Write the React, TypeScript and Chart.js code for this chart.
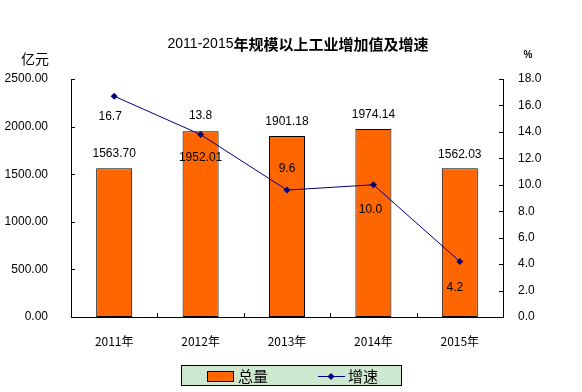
import React, { useEffect, useRef } from "react";
import { Chart, registerables } from "chart.js";

Chart.register(...registerables);

const categories = ["2011年", "2012年", "2013年", "2014年", "2015年"];
const totals = [1563.7, 1952.01, 1901.18, 1974.14, 1562.03];
const growth = [16.7, 13.8, 9.6, 10.0, 4.2];
const leftTicks = { min: 0, max: 2500, step: 500 };
const rightTicks = { min: 0, max: 18, step: 2 };
const titleNum = "2011-2015";
const titleText = "年规模以上工业增加值及增速";
const leftUnit = "亿元";
const rightUnit = "%";
const legendBar = "总量";
const legendLine = "增速";

// label placement (style only)
const barLabelDy = [-14, 27, -14, -14, -14];
const lineLabelDy = [20, -19, -21, 25, 26];
const lineLabelDx = [-4, 0, 0, -3, -5];

const NUM_FONT = "'Liberation Sans', Arial, sans-serif";
const CJK_FONT = "'Noto Sans CJK SC', sans-serif";

const decorPlugin = {
  id: "decor",
  afterDatasetsDraw(chart: any) {
    const ctx = chart.ctx;
    const area = chart.chartArea;
    ctx.save();
    // inner tick marks
    ctx.strokeStyle = "#000";
    ctx.lineWidth = 1;
    const ys = chart.scales.y;
    const ys1 = chart.scales.y1;
    const xs = chart.scales.x;
    ctx.beginPath();
    for (let v = leftTicks.min; v <= leftTicks.max; v += leftTicks.step) {
      const py = Math.round(ys.getPixelForValue(v)) + 0.5;
      ctx.moveTo(area.left, py);
      ctx.lineTo(area.left + 4, py);
    }
    for (let v = rightTicks.min; v <= rightTicks.max + 1e-9; v += rightTicks.step) {
      const py = Math.round(ys1.getPixelForValue(v)) + 0.5;
      ctx.moveTo(area.right, py);
      ctx.lineTo(area.right - 4, py);
    }
    const cw = (area.right - area.left) / categories.length;
    for (let i = 1; i < categories.length; i++) {
      const px = Math.round(area.left + cw * i) + 0.5;
      ctx.moveTo(px, area.bottom);
      ctx.lineTo(px, area.bottom - 4);
    }
    ctx.stroke();

    // data labels
    ctx.fillStyle = "#000";
    ctx.font = `12px ${NUM_FONT}`;
    ctx.textAlign = "center";
    ctx.textBaseline = "middle";
    const barMeta = chart.getDatasetMeta(0);
    barMeta.data.forEach((el: any, i: number) => {
      ctx.fillText(totals[i].toFixed(2), el.x, el.y + barLabelDy[i]);
    });
    const lineMeta = chart.getDatasetMeta(1);
    lineMeta.data.forEach((el: any, i: number) => {
      ctx.fillText(growth[i].toFixed(1), el.x + lineLabelDx[i], el.y + lineLabelDy[i]);
    });
    ctx.restore();
  },
  afterDraw(chart: any) {
    const ctx = chart.ctx;
    ctx.save();
    ctx.fillStyle = "#000";
    ctx.textBaseline = "middle";
    // title
    ctx.font = `14px ${NUM_FONT}`;
    const w1 = ctx.measureText(titleNum).width;
    ctx.font = `bold 15px ${CJK_FONT}`;
    const w2 = ctx.measureText(titleText).width;
    const startX = 298 - (w1 + w2) / 2;
    ctx.textAlign = "left";
    ctx.font = `14px ${NUM_FONT}`;
    ctx.fillText(titleNum, startX, 44);
    ctx.font = `bold 15px ${CJK_FONT}`;
    ctx.fillText(titleText, startX + w1, 44);
    // units
    ctx.textAlign = "center";
    ctx.font = `14px ${CJK_FONT}`;
    ctx.fillText(leftUnit, 35, 59);
    ctx.font = `bold 10px ${NUM_FONT}`;
    ctx.fillText(rightUnit, 528, 55);
    // legend
    ctx.fillStyle = "#CCE8CF";
    ctx.fillRect(181, 365, 220, 20);
    ctx.strokeStyle = "#000";
    ctx.lineWidth = 1;
    ctx.strokeRect(181.5, 365.5, 220, 20);
    ctx.fillStyle = "#FF6600";
    ctx.fillRect(207, 371, 26, 10);
    ctx.strokeRect(207.5, 371.5, 26, 10);
    ctx.fillStyle = "#000";
    ctx.textAlign = "left";
    ctx.font = `15px ${CJK_FONT}`;
    ctx.fillText(legendBar, 238, 376);
    ctx.fillText(legendLine, 348, 376);
    ctx.strokeStyle = "#000080";
    ctx.beginPath();
    ctx.moveTo(318, 376.5);
    ctx.lineTo(345, 376.5);
    ctx.stroke();
    ctx.fillStyle = "#000080";
    ctx.beginPath();
    ctx.moveTo(331, 373);
    ctx.lineTo(334.5, 376.5);
    ctx.lineTo(331, 380);
    ctx.lineTo(327.5, 376.5);
    ctx.closePath();
    ctx.fill();
    ctx.restore();
  },
};

export default function App() {
  const ref = useRef<HTMLCanvasElement | null>(null);
  useEffect(() => {
    if (!ref.current) return;
    const chart = new Chart(ref.current, {
      type: "bar",
      data: {
        labels: categories,
        datasets: [
          {
            type: "bar",
            label: legendBar,
            data: totals,
            backgroundColor: "#FF6600",
            borderColor: "#000000",
            borderWidth: 1,
            borderSkipped: false,
            categoryPercentage: 1,
            barPercentage: 0.417,
            yAxisID: "y",
            order: 1,
          },
          {
            type: "line",
            label: legendLine,
            data: growth,
            borderColor: "#000080",
            backgroundColor: "#000080",
            borderWidth: 1,
            pointStyle: "rectRot",
            pointRadius: 3.5,
            pointBorderWidth: 0,
            tension: 0,
            yAxisID: "y1",
            order: 0,
          },
        ] as any,
      },
      options: {
        responsive: false,
        animation: false,
        devicePixelRatio: 1,
        layout: { padding: { left: 0, right: 0, top: 79, bottom: 45 } },
        plugins: {
          legend: { display: false },
          title: { display: false },
          tooltip: { enabled: false },
        },
        scales: {
          x: {
            grid: { display: false },
            border: { display: true, color: "#000", width: 1 },
            ticks: {
              color: "#000",
              padding: 9,
              font: { family: CJK_FONT, size: 12 },
            },
            afterFit(scale: any) {
              scale.height = 30;
            },
          },
          y: {
            position: "left",
            min: leftTicks.min,
            max: leftTicks.max,
            grid: { display: false },
            border: { display: true, color: "#000", width: 1 },
            ticks: {
              stepSize: leftTicks.step,
              color: "#000",
              padding: 15,
              font: { family: NUM_FONT, size: 12 },
              callback: (v: any) => Number(v).toFixed(2),
            },
            afterFit(scale: any) {
              scale.width = 71;
            },
          },
          y1: {
            position: "right",
            min: rightTicks.min,
            max: rightTicks.max,
            grid: { display: false },
            border: { display: true, color: "#000", width: 1 },
            ticks: {
              stepSize: rightTicks.step,
              color: "#000",
              padding: 7,
              font: { family: NUM_FONT, size: 12 },
              callback: (v: any) => Number(v).toFixed(1),
            },
            afterFit(scale: any) {
              scale.width = 79;
            },
          },
        },
      } as any,
      plugins: [decorPlugin],
    });
    return () => chart.destroy();
  }, []);
  return (
    <div style={{ position: "absolute", left: 0, top: 0, width: 582, height: 392, background: "#fff" }}>
      <canvas ref={ref} width={582} height={392} />
    </div>
  );
}
